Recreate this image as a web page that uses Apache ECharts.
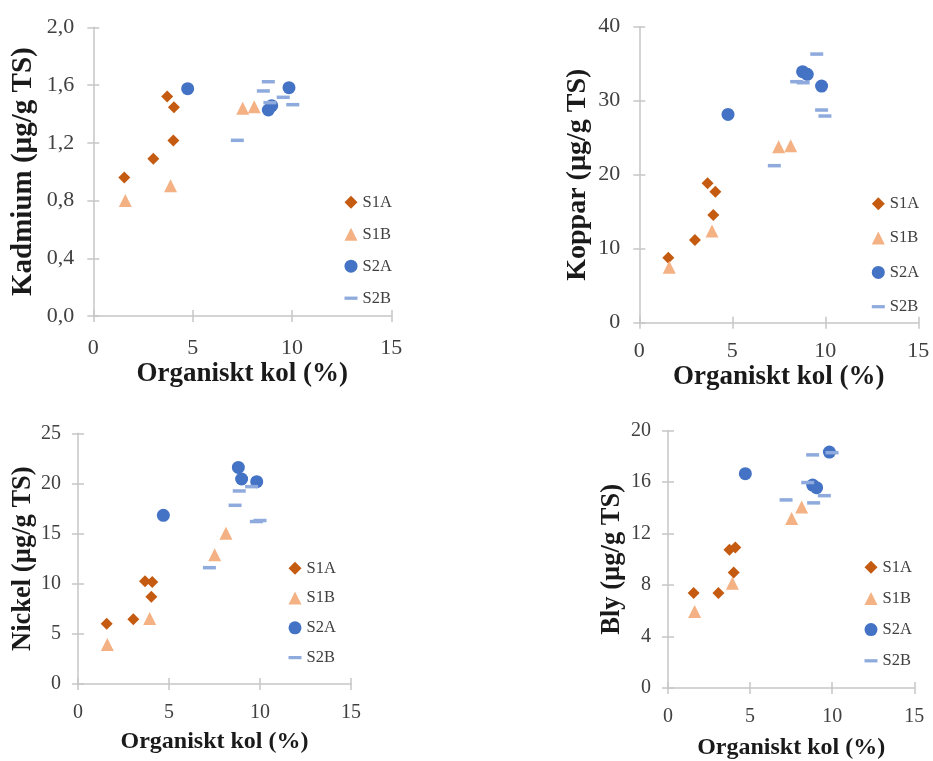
<!DOCTYPE html>
<html><head><meta charset="utf-8">
<script src="https://cdn.jsdelivr.net/npm/echarts@6/dist/echarts.min.js"></script>
<style>html,body{margin:0;padding:0;background:#fff}#c{width:933px;height:761px}</style>
</head><body><div id="c"></div>
<script>
// ---- data ----
const seriesNames = ['S1A', 'S1B', 'S2A', 'S2B'];
const xTicks = [0, 5, 10, 15];
const xTitle = 'Organiskt kol (%)';

// Kadmium (µg/g TS)
const kadS1A = [[1.56,0.96],[3.02,1.09],[3.72,1.52],[4.06,1.446],[4.03,1.215]];
const kadS1B = [[1.61,0.80],[3.89,0.903],[7.52,1.439],[8.10,1.45]];
const kadS2A = [[4.75,1.575],[8.81,1.427],[8.98,1.457],[9.85,1.582]];
const kadS2B = [[8.81,1.623],[8.56,1.559],[9.56,1.515],[10.04,1.464],[7.25,1.217],[8.89,1.478]];
const kadTicks = [0, 0.4, 0.8, 1.2, 1.6, 2.0];

// Koppar (µg/g TS)
const kopS1A = [[1.56,8.78],[2.99,11.17],[3.67,18.83],[4.09,17.7],[3.98,14.55]];
const kopS1B = [[1.61,7.5],[3.91,12.39],[7.49,23.78],[8.14,23.92]];
const kopS2A = [[4.77,28.15],[8.78,33.92],[9.03,33.56],[9.80,31.98]];
const kopS2B = [[9.54,36.3],[8.46,32.57],[8.81,32.43],[9.80,28.74],[9.98,27.93],[7.26,21.22]];
const kopTicks = [0, 10, 20, 30, 40];

// Nickel (µg/g TS)
const nicS1A = [[1.575,6.02],[3.04,6.45],[3.68,10.24],[4.08,10.17],[4.03,8.71]];
const nicS1B = [[1.61,3.95],[3.94,6.52],[7.51,12.9],[8.13,15.03]];
const nicS2A = [[4.69,16.82],[8.81,21.6],[8.99,20.44],[9.82,20.18]];
const nicS2B = [[8.86,19.25],[8.63,17.82],[9.54,19.68],[9.80,16.2],[10.0,16.3],[7.22,11.6]];
const nicTicks = [0, 5, 10, 15, 20, 25];

// Bly (µg/g TS)
const blyS1A = [[1.56,7.39],[3.07,7.39],[3.74,10.75],[4.10,10.93],[4.00,8.97]];
const blyS1B = [[1.62,5.95],[3.92,8.15],[7.53,13.17],[8.14,14.06]];
const blyS2A = [[4.71,16.66],[8.81,15.77],[9.05,15.57],[9.83,18.34]];
const blyS2B = [[8.81,18.12],[9.99,18.29],[8.51,15.97],[9.52,14.95],[7.19,14.62],[8.87,14.39]];
const blyTicks = [0, 4, 8, 12, 16, 20];

// ---- layout / styles ----
const panels = [
  { yTitle: 'Kadmium (µg/g TS)', data: [kadS1A, kadS1B, kadS2A, kadS2B], ticks: kadTicks, comma: true,
    grid: {left: 93.3, top: 27.3, width: 298, height: 288.7}, fs: 22, xtfs: 27, ytfs: 29, yGap: 55.5, xGap: 44.5, yMargin: 19, xMargin: 21,
    legend: {left: 339.5, top: 188.7, gap: 15} },
  { yTitle: 'Koppar (µg/g TS)', data: [kopS1A, kopS1B, kopS2A, kopS2B], ticks: kopTicks, comma: false,
    grid: {left: 639.3, top: 26.7, width: 279, height: 296}, fs: 22, xtfs: 27, ytfs: 28, yGap: 47.5, xGap: 31, yMargin: 19, xMargin: 18,
    legend: {left: 866.8, top: 190.3, gap: 17.3} },
  { yTitle: 'Nickel (µg/g TS)', data: [nicS1A, nicS1B, nicS2A, nicS2B], ticks: nicTicks, comma: false,
    grid: {left: 78, top: 433.3, width: 273, height: 250.7}, fs: 20, xtfs: 24, ytfs: 26.5, yGap: 41.5, xGap: 46, yMargin: 17, xMargin: 19,
    legend: {left: 283.5, top: 554.7, gap: 12.8} },
  { yTitle: 'Bly (µg/g TS)', data: [blyS1A, blyS1B, blyS2A, blyS2B], ticks: blyTicks, comma: false,
    grid: {left: 668, top: 430.7, width: 246.3, height: 261.7}, fs: 20, xtfs: 24, ytfs: 26.5, yGap: 42, xGap: 48, yMargin: 17, xMargin: 19,
    legend: {left: 859.5, top: 553.7, gap: 14.2} }
];

const FONT = '"Liberation Serif", "DejaVu Serif", serif';
const AXIS_COLOR = '#c6c6c6';
const LABEL_COLOR = '#404040';
const styles = {
  S1A: {symbol: 'diamond', size: 12, color: '#C55A11'},
  S1B: {symbol: 'triangle', size: 13, color: '#F4B183'},
  S2A: {symbol: 'circle', size: 13, color: '#4472C4'},
  S2B: {symbol: 'rect', size: [13, 3.5], color: '#8FAADC'}
};
const legendIcons = {S1A: 'diamond', S1B: 'triangle', S2A: 'circle', S2B: 'path://M0,0h14v3.5h-14z'};

const option = {animation: false, backgroundColor: '#fff', grid: [], xAxis: [], yAxis: [], series: [], legend: []};

panels.forEach((p, i) => {
  option.grid.push(Object.assign({containLabel: false}, p.grid));
  const yMin = p.ticks[0], yMax = p.ticks[p.ticks.length - 1], yInt = p.ticks[1] - p.ticks[0];
  const yFmt = v => p.comma ? v.toFixed(1).replace('.', ',') : String(v);
  // main axes (ticks outside)
  option.xAxis.push({
    type: 'value', gridIndex: i, position: 'bottom', min: xTicks[0], max: xTicks[xTicks.length - 1], interval: xTicks[1] - xTicks[0],
    name: xTitle, nameLocation: 'middle', nameGap: p.xGap,
    nameTextStyle: {fontFamily: FONT, fontSize: p.xtfs, fontWeight: 'bold', color: '#1a1a1a'},
    axisLine: {show: true, onZero: false, lineStyle: {color: AXIS_COLOR, width: 1.5}},
    axisTick: {show: true, inside: false, length: 6, lineStyle: {color: AXIS_COLOR, width: 1.5}},
    axisLabel: {fontFamily: FONT, fontSize: p.fs, color: LABEL_COLOR, margin: p.xMargin},
    splitLine: {show: false}
  });
  option.yAxis.push({
    type: 'value', gridIndex: i, position: 'left', min: yMin, max: yMax, interval: yInt,
    name: p.yTitle, nameLocation: 'middle', nameGap: p.yGap,
    nameTextStyle: {fontFamily: FONT, fontSize: p.ytfs, fontWeight: 'bold', color: '#1a1a1a'},
    axisLine: {show: true, onZero: false, lineStyle: {color: AXIS_COLOR, width: 1.5}},
    axisTick: {show: true, inside: false, length: 6, lineStyle: {color: AXIS_COLOR, width: 1.5}},
    axisLabel: {fontFamily: FONT, fontSize: p.fs, color: LABEL_COLOR, margin: p.yMargin, formatter: yFmt},
    splitLine: {show: false}
  });
});
// secondary axes for inward half of cross ticks
panels.forEach((p, i) => {
  const yMin = p.ticks[0], yMax = p.ticks[p.ticks.length - 1], yInt = p.ticks[1] - p.ticks[0];
  option.xAxis.push({
    type: 'value', gridIndex: i, position: 'bottom', min: xTicks[0], max: xTicks[xTicks.length - 1], interval: xTicks[1] - xTicks[0],
    axisLine: {show: false, onZero: false}, axisLabel: {show: false}, splitLine: {show: false},
    axisTick: {show: true, inside: true, length: 6, lineStyle: {color: AXIS_COLOR, width: 1.5}}
  });
  option.yAxis.push({
    type: 'value', gridIndex: i, position: 'left', min: yMin, max: yMax, interval: yInt,
    axisLine: {show: false, onZero: false}, axisLabel: {show: false}, splitLine: {show: false},
    axisTick: {show: true, inside: true, length: 6, lineStyle: {color: AXIS_COLOR, width: 1.5}}
  });
});

panels.forEach((p, i) => {
  seriesNames.forEach((name, k) => {
    const s = styles[name];
    option.series.push({
      type: 'scatter', name: name, xAxisIndex: i, yAxisIndex: i,
      symbol: s.symbol, symbolSize: s.size,
      itemStyle: {color: s.color, opacity: 1},
      z: 2 + k,
      data: p.data[k]
    });
  });
  option.legend.push({
    orient: 'vertical', left: p.legend.left, top: p.legend.top, itemGap: p.legend.gap,
    itemWidth: 13, itemHeight: 13,
    textStyle: {fontFamily: FONT, fontSize: 16.5, color: LABEL_COLOR, lineHeight: 16},
    data: seriesNames.map(n => ({name: n, icon: legendIcons[n]}))
  });
});

const chart = echarts.init(document.getElementById('c'), null, {renderer: 'canvas'});
chart.setOption(option);
</script>
</body></html>
